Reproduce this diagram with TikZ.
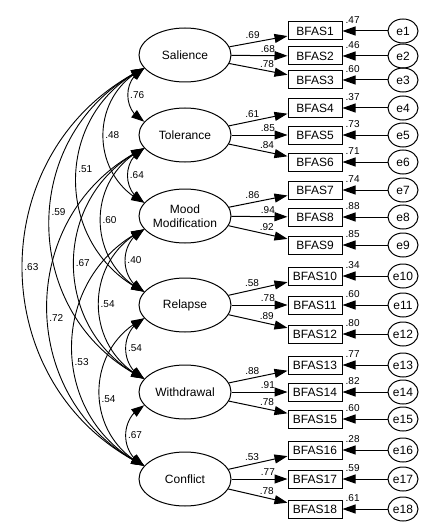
\documentclass[tikz,border=0pt]{standalone}
\usepackage{fontspec}
\setmainfont{Liberation Sans}
\usetikzlibrary{arrows.meta, shapes.geometric, positioning, bending}

\begin{document}
\begin{tikzpicture}[x=1pt, y=-1pt,
    latent/.style={draw, ellipse, line width=1pt, minimum width=92pt, minimum height=54pt,
                   inner sep=0pt, align=center, font=\fontsize{12}{13.5}\selectfont},
    obs/.style={draw, rectangle, line width=1pt, minimum width=54pt, minimum height=18pt,
                inner sep=1pt, font=\fontsize{12}{13}\selectfont},
    err/.style={draw, ellipse, line width=1pt, minimum width=30pt, minimum height=24pt,
                inner sep=0pt, font=\fontsize{12}{13}\selectfont},
    load/.style={-{Triangle[length=13pt, width=9pt]}, line width=1pt},
    cov/.style={{Triangle[length=13pt, width=9pt]}-{Triangle[length=13pt, width=9pt]},
                line width=0.9pt, bend right=64, looseness=1.17},
    est/.style={font=\fontsize{10}{11}\selectfont, inner sep=2pt}]

  \useasboundingbox (0,0) rectangle (444,532);

  % factors
  \node[latent] (sal)  at (185,55)  {Salience};
  \node[latent] (tol)  at (185,135) {Tolerance};
  \node[latent] (mood) at (185,216) {Mood\\Modification};
  \node[latent] (rel)  at (185,305) {Relapse};
  \node[latent] (wd)   at (185,392) {Withdrawal};
  \node[latent] (con)  at (185,479) {Conflict};

  % items with their errors
  \foreach \i/\y/\f/\l/\p/\r in {1/31/sal/.69/.4/.47, 2/56/sal/.68/.65/.46, 3/80/sal/.78/.65/.60,
      4/108/tol/.61/.4/.37, 5/135/tol/.85/.65/.73, 6/162/tol/.84/.65/.71,
      7/190/mood/.86/.4/.74, 8/217/mood/.94/.65/.88, 9/245/mood/.92/.65/.85,
      10/276/rel/.58/.4/.34, 11/305/rel/.78/.65/.60, 12/334/rel/.89/.65/.80,
      13/365/wd/.88/.4/.77, 14/392/wd/.91/.65/.82, 15/419/wd/.78/.65/.60,
      16/450/con/.53/.4/.28, 17/479/con/.77/.65/.59, 18/509/con/.78/.65/.61} {
    \node[obs] (b\i) at (315,\y) {BFAS\i};
    \node[err] (e\i) at (403,\y) {e\i};
    \draw[load] (\f) -- node[est, above=1pt, pos=\p] {\l} (b\i);
    \draw[load] (e\i) -- (b\i);
    \node[est, anchor=base west] (r\i) at ([xshift=1pt, yshift=-2pt]b\i.north east) {\r};
  }

  % correlations between factors
  \foreach \a/\b/\v/\p in {sal/tol/.76/.5, sal/mood/.48/.5, sal/rel/.51/.46, sal/wd/.59/.47,
      sal/con/.63/.5, tol/mood/.64/.5, tol/rel/.60/.5, tol/wd/.67/.5, tol/con/.72/.53,
      mood/rel/.40/.5, mood/wd/.54/.5, mood/con/.53/.55, rel/wd/.54/.5, rel/con/.54/.54,
      wd/con/.67/.5} {
    \draw[cov] (\a.198) to node[est, right, pos=\p] {\v} (\b.162);
  }
\end{tikzpicture}
\end{document}
